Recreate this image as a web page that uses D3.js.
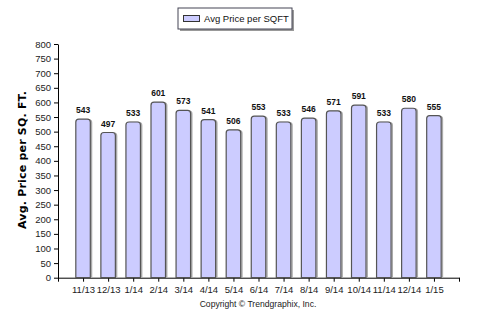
<!DOCTYPE html>
<html><head><meta charset="utf-8">
<script src="https://cdn.jsdelivr.net/npm/d3@7"></script>
<style>body{margin:0;background:#fff;}svg{display:block;font-family:Arial,"Liberation Sans",sans-serif;}</style>
</head><body><svg id="c" width="480" height="328"></svg>
<script>
const categories = ["11/13","12/13","1/14","2/14","3/14","4/14","5/14","6/14","7/14","8/14","9/14","10/14","11/14","12/14","1/15"];
const values = [543,497,533,601,573,541,506,553,533,546,571,591,533,580,555];
const yTicks = [0,50,100,150,200,250,300,350,400,450,500,550,600,650,700,750,800];
const seriesName = "Avg Price per SQFT";
const yTitle = "Avg. Price per SQ. FT.";
const copyright = "Copyright \u00A9 Trendgraphix, Inc.";

const svg = d3.select("#c");
const L = 58, R = 459, T = 44, B = 277.7;
const y = d3.scaleLinear().domain([0,800]).range([B,T]);
const x = d3.scaleLinear().domain([0,categories.length+1]).range([L,R]);
const bw = 14.5, rr = 3;

// y axis
const ya = svg.append("g").attr("transform",`translate(${L},0)`)
  .call(d3.axisLeft(y).tickValues(yTicks).tickSize(4).tickSizeOuter(0));
ya.select(".domain").attr("stroke","#000");
ya.selectAll("line").attr("stroke","#000");
ya.selectAll("text").attr("font-size","9.5px").attr("fill","#222");

// x axis
const xa = svg.append("g").attr("transform",`translate(0,${B})`)
  .call(d3.axisBottom(x).tickValues(d3.range(0,categories.length+2)).tickSize(4).tickSizeOuter(0)
    .tickFormat(i => (i>=1 && i<=categories.length) ? categories[i-1] : ""));
xa.select(".domain").attr("stroke","#000");
xa.selectAll("line").attr("stroke","#000");
xa.selectAll("text").attr("font-size","9.5px").attr("fill","#222").attr("dy","0.9em");

function barPath(cx, v){
  const x0 = cx - bw/2, x1 = cx + bw/2, y0 = y(v), yb = B;
  return `M${x0},${yb} L${x0},${y0+rr} Q${x0},${y0} ${x0+rr},${y0} L${x1-rr},${y0} Q${x1},${y0} ${x1},${y0+rr} L${x1},${yb}`;
}
const bars = svg.append("g");
bars.selectAll("path.sh").data(values).join("path").attr("class","sh")
  .attr("d",(v,i)=>barPath(x(i+1)+1.2, v-2))
  .attr("fill","none").attr("stroke","#aaa").attr("stroke-width",1.5);
bars.selectAll("path.b").data(values).join("path").attr("class","b")
  .attr("d",(v,i)=>barPath(x(i+1), v)+" Z")
  .attr("fill","#ccccff").attr("stroke","#555").attr("stroke-width",1.2);

svg.append("g").selectAll("text").data(values).join("text")
  .attr("x",(v,i)=>x(i+1)).attr("y",v=>y(v)-6)
  .attr("text-anchor","middle").attr("font-size","8.5px").attr("font-weight","bold").attr("fill","#111")
  .text(v=>v);

// y title
svg.append("text").attr("transform","translate(26,160) rotate(-90)")
  .attr("text-anchor","middle").attr("font-size","11px").attr("font-weight","bold").attr("fill","#000")
  .attr("font-family","Verdana,'DejaVu Sans',sans-serif").attr("letter-spacing","0.2px")
  .text(yTitle);

// legend
const lg = svg.append("g");
lg.append("rect").attr("x",180).attr("y",10).attr("width",114).attr("height",21).attr("fill","#999");
lg.append("rect").attr("x",178).attr("y",8).attr("width",114).attr("height",21).attr("fill","#fff").attr("stroke","#445").attr("stroke-width",1);
lg.append("rect").attr("x",183.5).attr("y",15.5).attr("width",16).attr("height",6).attr("fill","#ccccff").attr("stroke","#333").attr("stroke-width",1);
lg.append("text").attr("x",204).attr("y",22).attr("font-size","9.5px").attr("fill","#111").text(seriesName);

svg.append("text").attr("x",258).attr("y",307).attr("text-anchor","middle")
  .attr("font-size","8.6px").attr("fill","#222").text(copyright);
</script></body></html>
